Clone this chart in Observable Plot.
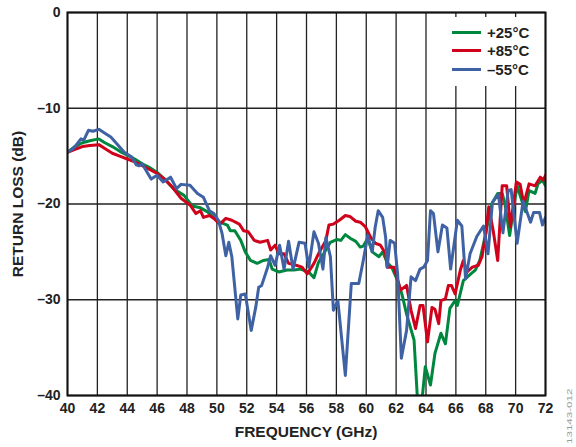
<!DOCTYPE html>
<html>
<head>
<meta charset="utf-8">
<script src="https://cdn.jsdelivr.net/npm/d3@7"></script>
<script src="https://cdn.jsdelivr.net/npm/@observablehq/plot@0.6"></script>
<style>
  html, body { margin: 0; padding: 0; background: #fff; }
  #wrap { position: relative; width: 576px; height: 447px; overflow: hidden; font-family: "Liberation Sans", Arial, sans-serif; }
  #legend { position: absolute; left: 445px; top: 17px; width: 92px; background: #fff; padding: 6px 0 7px 7px; }
  .row { display: flex; align-items: center; height: 18.5px; font-weight: bold; font-size: 15px; color: #222; }
  .sw { width: 29px; height: 3px; margin-right: 6px; }
  #code { position: absolute; left: 565px; top: 444px; line-height: 9px; transform: rotate(-90deg) scaleX(1.45); transform-origin: 0 0; font-size: 8px; color: #999; white-space: nowrap; }
  .axt { position: absolute; font-weight: bold; font-size: 15.5px; color: #222; white-space: nowrap; }
  #xt { left: 306px; top: 423px; transform: translateX(-50%); }
  #yt { left: 9px; top: 204px; transform: rotate(-90deg) translateX(-50%); transform-origin: 0 0; }
</style>
</head>
<body>
<div id="wrap"></div>
<script>
// Frequencies (GHz) and return loss (dB) per temperature
const seriesNames = ["+25°C", "+85°C", "–55°C"];
const seriesColors = ["#00873E", "#D0021B", "#3F62A4"];
const xTitle = "FREQUENCY (GHz)";
const yTitle = "RETURN LOSS (dB)";
const figureCode = "13143-012";

const f25 = [40,40.5,41,41.5,42.1,42.5,43,43.5,44,44.5,45,45.5,46,46.5,47.1,47.5,47.8,48.35,48.9,49.35,49.8,50.2,50.7,50.9,51.2,51.6,51.9,52.25,52.7,53.1,53.5,53.7,54.15,54.7,55.15,55.6,56.15,56.5,56.8,57.15,57.6,58.05,58.3,58.6,58.95,59.3,59.6,59.8,60.1,60.4,60.85,61.1,61.4,61.7,62.1,62.4,62.7,63.2,63.45,63.7,63.95,64.3,64.6,65.0,65.3,65.6,65.95,66.1,66.5,67.0,67.3,67.6,68.0,68.2,68.4,68.8,69.1,69.3,69.6,69.9,70.1,70.4,70.65,70.9,71.3,71.5,71.8,72.0];
const rl25 = [-14.6,-14.0,-13.6,-13.4,-13.2,-13.6,-14.0,-14.5,-14.9,-15.3,-15.8,-16.2,-16.7,-17.4,-18.4,-18.8,-19.1,-20.2,-20.4,-20.8,-21.4,-21.9,-22.2,-22.8,-22.8,-23.8,-25.0,-25.9,-26.2,-25.9,-25.8,-26.8,-27.1,-26.9,-26.9,-26.8,-27.1,-27.7,-26.1,-25.2,-24.0,-23.7,-23.8,-23.2,-23.6,-23.9,-24.5,-24.4,-23.6,-25.0,-25.5,-25.0,-26.1,-26.6,-28.0,-29.5,-31.5,-34.2,-41,-41,-37.0,-38.9,-35.6,-33.5,-34.6,-30.9,-30.1,-30.6,-28.0,-27.3,-26.9,-25.9,-23.1,-21.4,-20.0,-18.9,-18.9,-20.1,-23.3,-20.0,-18.1,-19.6,-20.8,-18.6,-18.9,-17.9,-17.5,-18.1];

const f85 = [40,40.5,41,41.5,42.1,42.5,43,43.5,44,44.5,45,45.5,46,46.5,47,47.6,48.2,48.6,48.9,49.1,49.5,49.8,50.2,50.6,51.0,51.5,51.8,52.1,52.5,52.9,53.4,53.6,53.9,54.15,54.5,54.8,55.3,55.7,56.05,56.5,56.8,57.3,57.5,57.8,58.2,58.6,58.9,59.3,59.6,59.95,60.3,60.6,60.95,61.3,61.4,61.85,62.3,62.7,63.0,63.3,63.6,63.8,64.1,64.4,64.6,64.85,65.0,65.3,65.5,65.7,65.95,66.3,66.5,66.75,67.1,67.5,67.75,68.0,68.2,68.5,68.8,69.1,69.4,69.65,70.05,70.3,70.55,70.9,71.3,71.65,71.85,72.0];
const rl85 = [-14.6,-14.3,-14.0,-13.9,-13.8,-14.2,-14.7,-15.0,-15.3,-15.6,-16.0,-16.4,-16.8,-17.4,-18.2,-19.4,-20.1,-21.0,-20.7,-21.4,-21.2,-21.5,-22.1,-21.5,-21.7,-22.1,-22.8,-22.9,-23.8,-24.0,-23.8,-24.8,-24.3,-25.2,-25.2,-26.2,-26.4,-26.6,-27.3,-26.2,-25.2,-23.8,-22.2,-22.1,-21.7,-21.2,-21.3,-21.8,-21.9,-22.4,-23.5,-24.1,-24.3,-25.2,-26.6,-26.6,-29.0,-28.5,-31.1,-33.0,-30.6,-30.6,-34.4,-30.8,-31.0,-32.5,-30.1,-29.9,-28.5,-28.5,-29.4,-26.9,-25.9,-27.1,-26.6,-26.4,-25.5,-23.1,-20.3,-22.8,-25.9,-18.1,-18.1,-22.4,-17.7,-17.95,-20.0,-17.9,-18.1,-17.2,-17.5,-17.0];

const f55 = [40,40.4,40.9,41.1,41.4,41.7,42.1,42.5,42.9,43.3,43.8,44.3,44.6,44.8,45.0,45.3,45.6,46.0,46.4,46.9,47.3,47.6,48.2,48.7,49.1,49.5,49.8,50.1,50.35,50.6,50.8,51.0,51.4,51.6,51.9,52.3,52.6,52.8,53.0,53.4,53.6,53.9,54.2,54.5,54.8,55.1,55.5,55.9,56.15,56.5,56.8,57.1,57.3,57.6,57.8,58.1,58.6,59.0,59.5,59.8,60.1,60.4,60.6,60.8,61.1,61.3,61.4,61.6,61.9,62.1,62.35,62.7,63.0,63.3,63.6,63.85,64.1,64.3,64.5,64.8,65.1,65.4,65.65,66.1,66.4,66.65,66.95,67.4,67.85,68.15,68.45,68.85,69.15,69.5,69.7,70.1,70.5,71.0,71.2,71.6,71.8,72.0];
const rl55 = [-14.6,-14.2,-13.2,-13.3,-12.3,-12.4,-12.2,-12.6,-13.0,-13.7,-14.6,-15.1,-15.9,-16.0,-15.8,-16.6,-17.4,-17.0,-17.7,-17.2,-18.4,-17.95,-18.05,-18.9,-19.3,-20.7,-21.0,-21.7,-23.1,-25.4,-24.0,-25.5,-32.0,-29.5,-29.4,-33.2,-30.8,-28.7,-28.5,-26.6,-25.4,-26.4,-24.3,-26.8,-23.9,-26.8,-24.0,-24.1,-26.6,-22.9,-24.1,-26.8,-23.5,-25.5,-31.1,-30.1,-37.9,-28.3,-28.3,-25.9,-23.3,-25.0,-22.4,-20.7,-21.4,-23.5,-26.6,-23.8,-24.1,-27.3,-36.1,-33.2,-27.6,-28.0,-26.8,-26.6,-25.9,-20.7,-21.0,-25.0,-22.2,-22.5,-26.8,-21.7,-22.3,-27.8,-25.2,-23.4,-22.3,-25.2,-19.8,-19.0,-23.0,-18.6,-18.5,-24.1,-19.7,-21.9,-20.9,-20.9,-22.2,-21.4];

const xTicks = [40,42,44,46,48,50,52,54,56,58,60,62,64,66,68,70,72];
const yTicks = [0,-10,-20,-30,-40];

const toRows = (fs, vs, name) => fs.map((f, i) => ({f, v: vs[i], s: name}));
const data = [
  ...toRows(f25, rl25, seriesNames[0]),
  ...toRows(f85, rl85, seriesNames[1]),
  ...toRows(f55, rl55, seriesNames[2])
];

const chart = Plot.plot({
  width: 576,
  height: 447,
  marginLeft: 67,
  marginRight: 31,
  marginTop: 12,
  marginBottom: 52,
  style: { fontFamily: "'Liberation Sans', Arial, sans-serif", fontWeight: "bold", fontSize: "14px", color: "#222", background: "#fff" },
  x: { domain: [40, 72], ticks: xTicks, tickSize: 0, tickPadding: 8, label: null },
  y: { domain: [-40, 0], ticks: yTicks, tickSize: 0, tickPadding: 7, tickFormat: d => d === 0 ? "0" : "–" + Math.abs(d), label: null },
  color: { domain: seriesNames, range: seriesColors },
  marks: [
    Plot.ruleX(xTicks, { stroke: "#222", strokeWidth: 1.3 }),
    Plot.ruleY(yTicks, { stroke: "#222", strokeWidth: 1.3 }),
    Plot.line(data, { x: "f", y: "v", z: "s", stroke: "s", strokeWidth: 3, clip: true, strokeLinejoin: "round" }),
    Plot.frame({ stroke: "#111", strokeWidth: 2 })
  ]
});

const wrap = document.getElementById("wrap");
wrap.appendChild(chart);

const legend = document.createElement("div");
legend.id = "legend";
seriesNames.forEach((n, i) => {
  const row = document.createElement("div");
  row.className = "row";
  const sw = document.createElement("div");
  sw.className = "sw";
  sw.style.background = seriesColors[i];
  const t = document.createElement("span");
  t.textContent = n;
  row.appendChild(sw);
  row.appendChild(t);
  legend.appendChild(row);
});
wrap.appendChild(legend);

const xt = document.createElement("div");
xt.className = "axt"; xt.id = "xt"; xt.textContent = xTitle;
wrap.appendChild(xt);
const yt = document.createElement("div");
yt.className = "axt"; yt.id = "yt"; yt.textContent = yTitle;
wrap.appendChild(yt);

const code = document.createElement("div");
code.id = "code";
code.textContent = figureCode;
wrap.appendChild(code);
</script>
</body>
</html>
